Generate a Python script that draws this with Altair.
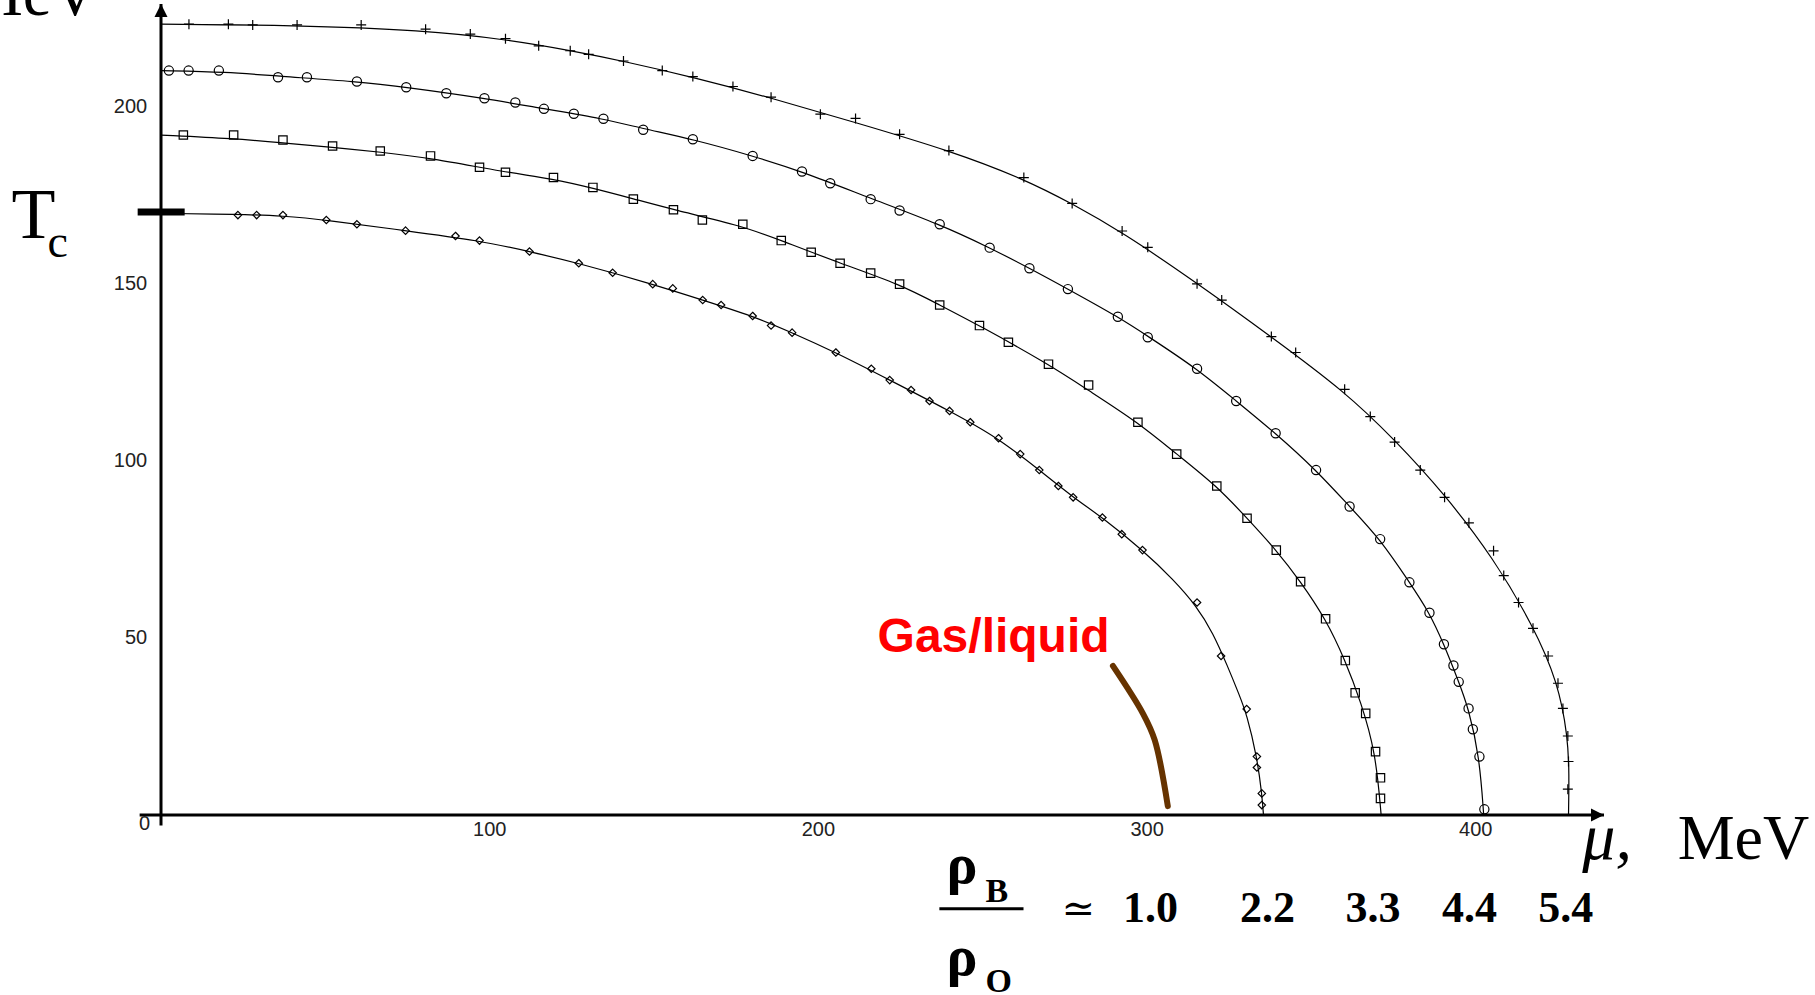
import altair as alt
import pandas as pd

# ---------------- data ----------------
# fitted curves T_c(mu) for the four densities
curve_plus_mu = [0, 40, 80, 105, 125, 141, 162, 186, 211, 240, 262.5, 277.2, 292.4,
                 315.2, 337.8, 360.1, 375.3, 390.5, 405.4, 417.4, 425.0, 428.0, 428.4, 428.2]
curve_plus_T = [223.3, 223.0, 221.6, 219.0, 215.8, 212.8, 208.3, 202.4, 195.6, 187.6, 179.6, 172.6, 164.6,
                150.2, 135.0, 119.6, 106.0, 90.6, 72.5, 53.5, 37.5, 22.0, 12.0, 0.0]

curve_circ_mu = [0, 20, 35.6, 59.6, 74.6, 98.4, 116.5, 134.6, 146.6, 161.8, 180.0, 195.0, 215.9, 236.9, 252.1,
                 264.2, 275.9, 291.1, 300.2, 315.2, 327.1, 339.1, 351.4, 361.6, 370.9, 379.8, 385.9, 390.3,
                 394.8, 397.8, 401.1, 402.4]
curve_circ_T = [210.2, 209.8, 208.6, 207.1, 205.5, 202.4, 199.4, 196.6, 193.8, 190.8, 186.1, 181.7, 174.1, 166.8, 160.2,
                154.4, 148.5, 140.7, 135.2, 126.0, 116.9, 107.8, 97.4, 87.1, 77.9, 65.7, 57.1, 48.2,
                37.6, 30.1, 16.5, 0.0]

curve_sq_mu = [0, 22.1, 37.1, 52.2, 66.7, 82.0, 104.8, 119.4, 131.4, 143.7, 155.9, 177.0, 188.7, 206.6, 224.7,
               236.9, 249.0, 270.0, 282.0, 297.2, 309.0, 321.2, 330.4, 339.3, 346.7, 354.3, 360.3, 365.0, 369.5, 371.2]
curve_sq_T = [192.0, 191.0, 189.8, 188.5, 187.2, 185.5, 181.5, 179.6, 177.0, 174.0, 170.9, 166.3, 162.2, 155.8, 149.9,
              144.0, 138.2, 127.3, 120.0, 110.9, 101.9, 92.9, 83.8, 74.8, 65.9, 55.4, 43.6, 32.0, 17.9, 0.0]

curve_dia_mu = [0, 23.4, 37.1, 50.3, 74.4, 96.9, 112.1, 127.1, 149.6, 164.8, 180.0, 192.0, 205.3, 221.7, 239.9,
                254.8, 267.2, 277.5, 286.4, 298.6, 308.0, 315.2, 320.0, 324.5, 328.0, 330.3, 333.4, 334.9, 335.4]
curve_dia_T = [169.9, 169.6, 169.2, 168.0, 165.0, 162.2, 159.1, 155.8, 149.9, 145.4, 140.9, 136.2, 130.6, 122.8, 114.1,
               106.4, 97.4, 89.7, 84.0, 74.8, 66.5, 58.8, 51.5, 42.0, 34.0, 28.5, 16.5, 6.1, 0.0]

# lattice points (markers)
pts_plus_mu = [8.5, 20.5, 27.9, 41.4, 60.9, 80.5, 94.1, 104.8, 114.9, 124.5, 130.1, 140.7, 152.5, 161.8, 174.0,
               185.6, 200.6, 211.3, 224.7, 239.7, 262.5, 277.2, 292.4, 300.2, 315.2, 322.7, 337.8, 345.2, 360.1,
               367.9, 375.3, 383.1, 390.5, 397.9, 405.4, 408.5, 413.0, 417.4, 422.0, 425.0, 426.5, 428.0, 428.2, 428.0]
pts_plus_T = [223.3, 223.3, 223.1, 223.1, 223.1, 221.9, 220.5, 219.2, 217.2, 215.8, 214.8, 212.9, 210.2, 208.5, 205.7,
              202.7, 197.9, 196.7, 192.2, 187.6, 180.0, 172.7, 164.9, 160.3, 150.0, 145.4, 135.1, 130.6, 120.2,
              112.5, 105.3, 97.4, 89.7, 82.5, 74.6, 67.6, 60.0, 52.7, 44.9, 37.2, 30.1, 22.3, 15.1, 7.3]

pts_circ_mu = [2.4, 8.4, 17.6, 35.6, 44.4, 59.6, 74.6, 86.8, 98.4, 107.8, 116.5, 125.6, 134.6, 146.7, 161.8,
               180.0, 195.0, 203.6, 215.9, 224.7, 236.9, 252.1, 264.2, 275.9, 291.1, 300.2, 315.2, 327.1, 339.1,
               351.4, 361.6, 370.9, 379.8, 385.9, 390.3, 393.2, 394.8, 397.8, 399.1, 401.1, 402.6]
pts_circ_T = [210.2, 210.2, 210.2, 208.3, 208.3, 207.1, 205.5, 203.8, 202.4, 201.2, 199.4, 198.0, 196.6, 193.5, 190.8,
              186.1, 181.7, 178.4, 173.9, 170.7, 166.8, 160.2, 154.4, 148.5, 140.7, 134.9, 126.0, 116.9, 107.8,
              97.4, 87.1, 77.9, 65.7, 57.1, 48.2, 42.2, 37.6, 30.1, 24.2, 16.5, 1.6]

pts_sq_mu = [6.8, 22.1, 37.1, 52.2, 66.7, 82.0, 96.9, 104.8, 119.4, 131.4, 143.7, 155.9, 164.7, 177.0, 188.7,
             197.8, 206.6, 215.9, 224.7, 236.9, 249.0, 257.8, 270.0, 282.2, 297.2, 309.0, 321.2, 330.4, 339.3,
             346.7, 354.3, 360.3, 363.3, 366.5, 369.5, 371.0, 371.0]
pts_sq_T = [192.0, 192.0, 190.6, 188.9, 187.5, 186.1, 182.9, 181.5, 180.0, 177.2, 173.9, 170.9, 168.0, 166.8, 162.2,
            158.9, 155.8, 153.0, 149.9, 144.0, 138.2, 133.5, 127.3, 121.4, 110.9, 101.9, 92.9, 83.8, 74.8,
            65.9, 55.4, 43.6, 34.5, 28.7, 17.9, 10.5, 4.7]

pts_dia_mu = [23.4, 29.1, 37.1, 50.3, 59.6, 74.4, 89.6, 96.9, 112.1, 127.1, 137.4, 149.6, 155.7, 164.8, 170.4,
              180.0, 185.6, 192.0, 205.3, 216.1, 221.7, 228.2, 233.8, 239.9, 246.2, 254.8, 261.4, 267.2, 273.0,
              277.5, 286.4, 292.3, 298.6, 315.2, 322.5, 330.3, 333.4, 333.4, 334.9, 334.9]
pts_dia_T = [169.4, 169.4, 169.4, 168.0, 166.8, 165.0, 163.5, 162.2, 159.1, 155.8, 153.1, 149.9, 148.7, 145.4, 144.0,
             140.9, 138.2, 136.2, 130.6, 126.0, 122.8, 120.0, 116.9, 114.1, 110.9, 106.4, 101.9, 97.4, 92.9,
             89.7, 84.0, 79.3, 74.8, 60.0, 44.9, 29.9, 16.5, 13.4, 6.1, 2.8]

# gas/liquid line (hand-drawn brown stroke)
gas_mu = [289.6, 298.7, 302.3, 306.3]
gas_T = [42.1, 28.7, 21.2, 2.5]

# T_c mark on the vertical axis
tc_mu = [-7.1]
tc_mu2 = [7.2]
tc_T = [170.3]

# density labels rho_B / rho_0
density_labels = ["1.0", "2.2", "3.3", "4.4", "5.4"]
density_mu = [301.0, 336.6, 368.7, 398.1, 427.4]
density_T = [-30.2] * 5

x_ticks = list(range(0, 440, 20))
y_ticks = list(range(0, 230, 10))
x_tick_labels = [100, 200, 300, 400]
y_tick_labels = [50, 100, 150, 200]

# ---------------- tables ----------------
series = ["plus", "circle", "square", "diamond"]
curves = [(curve_plus_mu, curve_plus_T), (curve_circ_mu, curve_circ_T),
          (curve_sq_mu, curve_sq_T), (curve_dia_mu, curve_dia_T)]
points = [(pts_plus_mu, pts_plus_T), (pts_circ_mu, pts_circ_T),
          (pts_sq_mu, pts_sq_T), (pts_dia_mu, pts_dia_T)]

curve_df = pd.concat([pd.DataFrame({"mu": m, "T": t, "s": s, "i": range(len(m))})
                      for s, (m, t) in zip(series, curves)])
pts_df = pd.concat([pd.DataFrame({"mu": m, "T": t, "s": s}) for s, (m, t) in zip(series, points)])
gas_df = pd.DataFrame({"mu": gas_mu, "T": gas_T, "i": range(len(gas_mu))})

XMAX, YMAX = 439, 229
xs = alt.Scale(domain=[0, XMAX], nice=False, zero=False)
ys = alt.Scale(domain=[0, YMAX], nice=False, zero=False)

X = alt.X("mu:Q", scale=xs, axis=None)
Y = alt.Y("T:Q", scale=ys, axis=None)

# axes: ticks drawn by vega-lite axes (no labels), labels as text marks
tick_style = dict(grid=False, domain=False, tickColor="black", tickWidth=1.3, labels=False, title=None)
axes_layer = alt.Chart(pd.DataFrame({"mu": [0], "T": [0]})).mark_point(opacity=0).encode(
    x=alt.X("mu:Q", scale=xs, axis=alt.Axis(values=x_ticks, tickSize=6, **tick_style)),
    y=alt.Y("T:Q", scale=ys, axis=alt.Axis(values=y_ticks, tickSize=8, **tick_style)))

xlab_df = pd.DataFrame({"txt": [str(v) for v in x_tick_labels], "mu": x_tick_labels, "T": [-5.9] * 4})
ylab_df = pd.DataFrame({"txt": [str(v) for v in y_tick_labels], "mu": [-4.2] * 4, "T": y_tick_labels})
xlabs = alt.Chart(xlab_df).mark_text(font="Liberation Sans", fontSize=20, color="#222", align="center",
                                     baseline="alphabetic").encode(x=X, y=Y, text="txt:N")
ylabs = alt.Chart(ylab_df).mark_text(font="Liberation Sans", fontSize=20, color="#222", align="right",
                                     baseline="middle").encode(x=X, y=Y, text="txt:N")

lines = alt.Chart(curve_df).mark_line(color="black", strokeWidth=1.2, interpolate="basis").encode(
    x=X, y=Y, detail="s:N", order="i:Q")

plus_path = "M-1,0H1M0,-1V1"
square_path = "M-1,-1H1V1H-1Z"
diamond_path = "M0,-1L1,0L0,1L-1,0Z"
markers = alt.Chart(pts_df).mark_point(filled=False, color="black", strokeWidth=1.2, opacity=1).encode(
    x=X, y=Y,
    shape=alt.Shape("s:N", scale=alt.Scale(domain=series, range=[plus_path, "circle", square_path, diamond_path]),
                    legend=None),
    size=alt.Size("s:N", scale=alt.Scale(domain=series, range=[100, 55, 64, 49]), legend=None))

# axis lines and arrows
axis_x_df = pd.DataFrame({"mu": [-6.5], "mu2": [XMAX], "T": [0]})
axis_y_df = pd.DataFrame({"mu": [0], "T": [-3], "T2": [YMAX]})
ax_x = alt.Chart(axis_x_df).mark_rule(color="black", strokeWidth=3).encode(x=X, x2="mu2:Q", y=Y)
ax_y = alt.Chart(axis_y_df).mark_rule(color="black", strokeWidth=3).encode(x=X, y=Y, y2="T2:Q")
arrow_up = alt.Chart(pd.DataFrame({"mu": [0], "T": [YMAX]})).mark_point(
    shape="M0,0L1,2L-1,2Z", filled=True, color="black", size=169, opacity=1).encode(x=X, y=Y)
arrow_right = alt.Chart(pd.DataFrame({"mu": [XMAX], "T": [0]})).mark_point(
    shape="M0,0L-2,-1L-2,1Z", filled=True, color="black", size=169, opacity=1).encode(x=X, y=Y)

tc_bar = alt.Chart(pd.DataFrame({"mu": tc_mu, "mu2": tc_mu2, "T": tc_T})).mark_rule(
    color="black", strokeWidth=7).encode(x=X, x2="mu2:Q", y=Y)

gas_line = alt.Chart(gas_df).mark_line(color="#663300", strokeWidth=6, strokeCap="round",
                                       interpolate="catmull-rom").encode(x=X, y=Y, order="i:Q")


def label(texts, mus, Ts, font="Liberation Serif", size=60, weight="normal", style="normal",
          color="black", align="left"):
    df = pd.DataFrame({"txt": texts, "mu": mus, "T": Ts})
    return alt.Chart(df).mark_text(font=font, fontSize=size, fontWeight=weight, fontStyle=style,
                                   color=color, align=align, baseline="alphabetic").encode(
        x=X, y=Y, text="txt:N")


texts = [
    label(["0"], [-5.0], [-4.3], font="Liberation Sans", size=20, color="#222", align="center"),
    label(["Gas/liquid"], [218.0], [46.0], font="Liberation Sans", size=48, weight="bold", color="#ff0000"),
    label(["T"], [-45.5], [163.0], size=72),
    label(["c"], [-34.5], [157.6], size=46),
    label(["MeV"], [-19.0], [225.8], size=65, align="right"),
    label(["\u03bc,"], [432.4], [-12.4], size=66, style="italic"),
    label(["MeV"], [461.4], [-12.4], size=64),
    label(["\u03c1"], [239.0], [-19.2], size=58, weight="bold"),
    label(["B"], [250.8], [-24.6], size=34, weight="bold"),
    label(["\u03c1"], [239.0], [-45.2], size=58, weight="bold"),
    label(["O"], [250.8], [-49.9], size=34, weight="bold"),
    label(["\u2243"], [274.0], [-30.2], size=40, font="DejaVu Serif"),
    label(density_labels, density_mu, density_T, size=44, weight="bold", align="center"),
]

frac_bar = alt.Chart(pd.DataFrame({"mu": [236.8], "mu2": [262.4], "T": [-26.5]})).mark_rule(
    color="black", strokeWidth=3).encode(x=X, x2="mu2:Q", y=Y)

chart = alt.layer(axes_layer, lines, markers, ax_x, ax_y, arrow_up, arrow_right, tc_bar, gas_line, frac_bar,
                  xlabs, ylabs, *texts).properties(
    width=1443, height=811,
    autosize=alt.AutoSizeParams(type="none"),
    padding={"left": 161, "top": 4, "right": 211, "bottom": 180},
    background="white",
).configure_view(stroke=None)

chart.save("out.html", embed_options={"renderer": "svg", "actions": False})
